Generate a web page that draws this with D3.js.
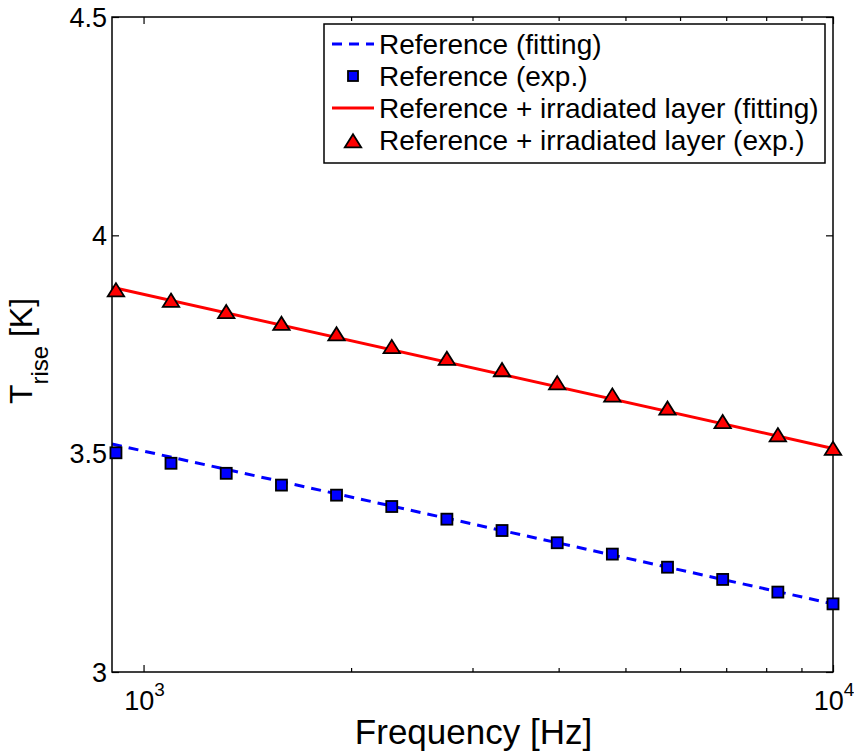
<!DOCTYPE html>
<html>
<head>
<meta charset="utf-8">
<script src="https://cdn.jsdelivr.net/npm/d3@7"></script>
<style>
  body { margin: 0; background: #fff; }
  text { font-family: "Liberation Sans", Arial, Helvetica, sans-serif; fill: #000; }
</style>
</head>
<body>
<div id="my_chart"></div>
<script>
// data
const freq = [912, 1096, 1318, 1585, 1905, 2291, 2754, 3311, 3981, 4786, 5754, 6918, 8318, 10000];
const refExp = [3.502, 3.478, 3.455, 3.428, 3.405, 3.379, 3.350, 3.324, 3.296, 3.270, 3.240, 3.212, 3.183, 3.156];
const irrExp = [3.875, 3.851, 3.825, 3.798, 3.774, 3.745, 3.718, 3.692, 3.662, 3.634, 3.604, 3.573, 3.543, 3.512];
const fitFreq = [900, 10000];
const refFit = [3.522, 3.156];
const irrFit = [3.881, 3.512];
const yTicks = [3, 3.5, 4, 4.5];
const xMajor = [1000, 10000];
const xMinor = [2000, 3000, 4000, 5000, 6000, 7000, 8000, 9000];
const legendLabels = ["Reference (fitting)", "Reference (exp.)",
    "Reference + irradiated layer (fitting)", "Reference + irradiated layer (exp.)"];

// set the dimensions and margins of the chart
const margin = { top: 17, right: 21, bottom: 79, left: 112 },
    width = 854 - margin.left - margin.right,
    height = 751 - margin.top - margin.bottom;

const root = d3.select("#my_chart")
    .append("svg")
    .attr("width", 854)
    .attr("height", 751);

const svg = root.append("g")
    .attr("transform", `translate(${margin.left},${margin.top})`);

const x = d3.scaleLog().domain([900, 10000]).range([0, width]);
const y = d3.scaleLinear().domain([3, 4.5]).range([height, 0]);

// ticks (inward, on all four sides)
function tickAxis(axis, tf) {
    svg.append("g")
        .attr("transform", tf)
        .call(axis)
        .call(g => g.select(".domain").remove())
        .call(g => g.selectAll("line").attr("stroke", "#000").attr("stroke-width", 1.2))
        .call(g => g.selectAll("text").remove());
}
tickAxis(d3.axisBottom(x).tickValues(xMajor).tickSize(-7), `translate(0,${height})`);
tickAxis(d3.axisBottom(x).tickValues(xMinor).tickSize(-4), `translate(0,${height})`);
tickAxis(d3.axisTop(x).tickValues(xMajor).tickSize(-7), "translate(0,0)");
tickAxis(d3.axisTop(x).tickValues(xMinor).tickSize(-4), "translate(0,0)");
tickAxis(d3.axisLeft(y).tickValues(yTicks).tickSize(-7), "translate(0,0)");
tickAxis(d3.axisRight(y).tickValues(yTicks).tickSize(-7), `translate(${width},0)`);

// y tick labels
svg.selectAll(".ylab")
    .data(yTicks)
    .join("text")
    .attr("x", -5)
    .attr("y", d => y(d))
    .attr("dy", "0.36em")
    .attr("text-anchor", "end")
    .style("font-size", "27px")
    .text(d => d);

// x tick labels 10^n
const xl = svg.selectAll(".xlab")
    .data(xMajor)
    .join("text")
    .attr("x", d => x(d) + 1)
    .attr("y", height + 38)
    .attr("text-anchor", "middle")
    .style("font-size", "27px");
xl.append("tspan").text("10");
xl.append("tspan").attr("dy", -14).style("font-size", "19px").text(d => Math.round(Math.log10(d)));

// axis titles
svg.append("text")
    .attr("x", width / 2 + 1)
    .attr("y", height + 72)
    .attr("text-anchor", "middle")
    .style("font-size", "35px")
    .text("Frequency [Hz]");

const yt = svg.append("text")
    .attr("transform", `translate(${32 - margin.left},${351 - margin.top}) rotate(-90)`)
    .attr("text-anchor", "middle")
    .style("font-size", "32px");
yt.append("tspan").text("T");
yt.append("tspan").attr("dy", 16).style("font-size", "24px").text("rise");
yt.append("tspan").attr("dy", -16).text(" [K]");

// fit lines
const line = d3.line().x(d => x(d[0])).y(d => y(d[1]));
svg.append("path")
    .datum(fitFreq.map((f, i) => [f, irrFit[i]]))
    .attr("d", line)
    .attr("fill", "none")
    .attr("stroke", "#ff0000")
    .attr("stroke-width", 3);
svg.append("path")
    .datum(fitFreq.map((f, i) => [f, refFit[i]]))
    .attr("d", line)
    .attr("fill", "none")
    .attr("stroke", "#0000ff")
    .attr("stroke-width", 3)
    .attr("stroke-dasharray", "10,7");

// box
svg.append("rect")
    .attr("width", width)
    .attr("height", height)
    .attr("fill", "none")
    .attr("stroke", "#000")
    .attr("stroke-width", 1.5);

// markers
const triPath = "M0,-6.8L8.2,6.4L-8.2,6.4Z";
svg.selectAll(".sq")
    .data(freq)
    .join("rect")
    .attr("x", d => x(d) - 5.5)
    .attr("y", (d, i) => y(refExp[i]) - 5.5)
    .attr("width", 11)
    .attr("height", 11)
    .attr("fill", "#0000ff")
    .attr("stroke", "#000")
    .attr("stroke-width", 1.8);
svg.selectAll(".tri")
    .data(freq)
    .join("path")
    .attr("transform", (d, i) => `translate(${x(d)},${y(irrExp[i])})`)
    .attr("d", triPath)
    .attr("fill", "#ff0000")
    .attr("stroke", "#000")
    .attr("stroke-width", 1.8);

// legend
const lg = root.append("g").attr("transform", "translate(324,24)");
lg.append("rect")
    .attr("width", 501)
    .attr("height", 139)
    .attr("fill", "#fff")
    .attr("stroke", "#000")
    .attr("stroke-width", 1.5);
const rowY = i => 20 + i * 32;
lg.selectAll(".lt")
    .data(legendLabels)
    .join("text")
    .attr("x", 55)
    .attr("y", (d, i) => rowY(i) + 10)
    .style("font-size", "28px")
    .text(d => d);
lg.append("line")
    .attr("x1", 8).attr("x2", 50)
    .attr("y1", rowY(0)).attr("y2", rowY(0))
    .attr("stroke", "#0000ff").attr("stroke-width", 3)
    .attr("stroke-dasharray", "10,7");
lg.append("rect")
    .attr("x", 29 - 5).attr("y", rowY(1) - 5)
    .attr("width", 10).attr("height", 10)
    .attr("fill", "#0000ff").attr("stroke", "#000").attr("stroke-width", 1.8);
lg.append("line")
    .attr("x1", 8).attr("x2", 50)
    .attr("y1", rowY(2)).attr("y2", rowY(2))
    .attr("stroke", "#ff0000").attr("stroke-width", 3);
lg.append("path")
    .attr("transform", `translate(29,${rowY(3) + 1})`)
    .attr("d", triPath)
    .attr("fill", "#ff0000").attr("stroke", "#000").attr("stroke-width", 1.8);
</script>
</body>
</html>
